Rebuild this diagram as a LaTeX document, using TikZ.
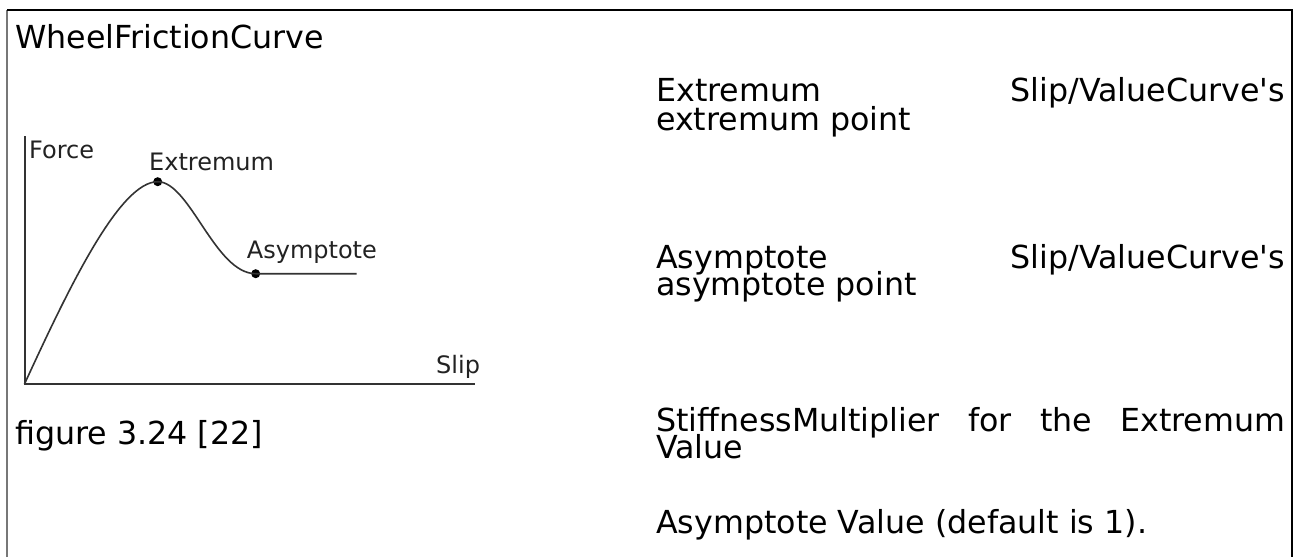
\documentclass[tikz,border=0pt]{standalone}
\usepackage{fontspec}
\setmainfont{DejaVu Sans}[Ligatures=TeXOff]
\definecolor{graphline}{HTML}{333333}
\definecolor{graphtext}{HTML}{222222}
\definecolor{leftborder}{HTML}{777777}
\begin{document}
\begin{tikzpicture}[x=1pt,y=-1pt,
  big/.style={font=\fontsize{31.7}{36}\selectfont, inner sep=0pt, anchor=base west},
  bigr/.style={big, anchor=base east},
  small/.style={font=\fontsize{24}{28}\selectfont, inner sep=0pt, anchor=base west, text=graphtext},
  axisline/.style={draw=graphline, line width=2pt},
  curveline/.style={draw=graphline, line width=1.6pt},
  dotnode/.style={circle, fill=black, inner sep=0pt, minimum size=9pt}]
\useasboundingbox (0,0) rectangle (1298,557);
\fill[white] (0,0) rectangle (1298,557);
% frame
\coordinate (fbl) at (7,557);
\coordinate (ftl) at (7,10);
\coordinate (ftr) at (1292,10);
\coordinate (fbr) at (1292,557);
\draw[leftborder, line width=1.5pt] (fbl) -- (ftl);
\draw[black, line width=1.5pt] (ftl) -- (ftr) -- (fbr);
% title
\node[big] (title) at (15,48) {WheelFrictionCurve};
% graph
\coordinate (origin) at (24.5,384);
\coordinate (ytop) at (24.5,136);
\coordinate (xend) at (475,384);
\draw[axisline] (ytop) -- (origin) -- (xend);
\node[dotnode] (ext) at (157.7,181.7) {};
\node[dotnode] (asy) at (255.7,273.7) {};
\coordinate (asyend) at (356.7,273.7);
\draw[curveline] (origin) .. controls (70,285) and (120,181.7) .. (ext.center)
  .. controls (190,181.7) and (215,273.7) .. (asy.center) -- (asyend);
\node[small] (force) at (29,158.3) {Force};
\node[small] (extl) at (149,170) {Extremum};
\node[small] (asyl) at (246.7,258.3) {Asymptote};
\node[small] (slip) at (436,373.3) {Slip};
\node[big] (fig) at (15,444) {figure 3.24 [22]};
% right column
\node[big] (e1l) at (656,101.7) {Extremum};
\node[bigr] (e1r) at (1285,101.7) {Slip/ValueCurve's};
\node[big] (e2) at (656,130) {extremum point};
\node[big] (a1l) at (656,268.3) {Asymptote};
\node[bigr] (a1r) at (1285,268.3) {Slip/ValueCurve's};
\node[big] (a2) at (656,295.5) {asymptote point};
\node[big] (s1) at (656,431.7) {\hbox to 629pt{StiffnessMultiplier\hfill for\hfill the\hfill Extremum}};
\node[big] (s2) at (656,458.5) {Value};
\node[big] (av) at (656,533) {Asymptote Value (default is 1).};
\end{tikzpicture}
\end{document}
